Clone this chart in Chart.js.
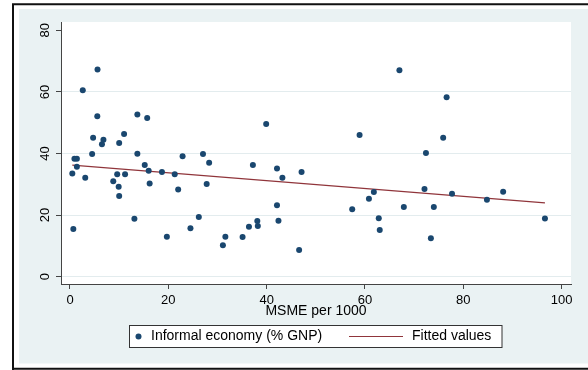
<!DOCTYPE html>
<html><head><meta charset="utf-8">
<script src="https://cdn.jsdelivr.net/npm/chart.js@4"></script>
<style>html,body{margin:0;padding:0;background:#fff}#wrap{position:relative;width:588px;height:370px}</style>
</head><body><div id="wrap"><canvas id="c" width="588" height="370"></canvas></div>
<script>
// ---- data ----
const msme = [0.47,0.68,0.9,1.4,1.4,2.6,3.1,4.5,4.7,5.55,5.6,6.5,6.8,8.8,9.6,9.9,10.0,10.0,11.0,11.2,13.1,13.7,13.7,15.2,15.7,16.0,16.2,18.7,19.7,21.3,22.0,22.9,24.5,26.2,27.05,27.8,28.3,31.1,31.6,35.1,36.4,37.2,38.1,38.2,39.9,42.1,42.1,42.4,43.2,46.6,47.1,57.4,58.9,60.8,61.8,62.8,63.0,67.0,67.9,72.1,72.4,73.4,74.0,75.9,76.6,77.7,84.8,88.1,96.6];
const informal = [33.5,15.5,38.3,38.3,35.7,60.5,32.1,39.8,45.1,52.1,67.3,43.0,44.5,31.0,33.3,29.2,26.2,43.4,46.3,33.3,18.8,52.7,39.9,36.3,51.5,34.4,30.3,34.0,13.0,33.3,28.3,39.1,15.7,19.4,39.8,30.1,37.0,10.2,13.0,12.9,16.2,36.3,18.1,16.5,49.6,35.1,23.2,18.2,32.1,8.7,34.0,21.9,46.0,25.3,27.5,19.0,15.2,67.0,22.6,28.5,40.2,12.5,22.6,45.1,58.3,26.9,25.0,27.6,18.9];
const fitX = [0.47, 96.6];
const fitY = [36.2, 24.0];
const xTicks = [0, 20, 40, 60, 80, 100];
const yTicks = [0, 20, 40, 60, 80];
const seriesLabels = ['Informal economy (% GNP)', 'Fitted values'];
const xTitle = 'MSME per 1000';

const NAVY = '#1a476f', MAROON = '#90353b', BG = '#eaf2f3', GRID = '#e3ecee', AXIS = '#444';
const FONT = '"Liberation Sans", Arial, sans-serif';

const bgPlugin = {
  id: 'bg',
  beforeDraw(chart) {
    const {ctx, chartArea: a} = chart;
    ctx.save();
    ctx.fillStyle = '#fff'; ctx.fillRect(0, 0, 588, 370);
    ctx.fillStyle = BG; ctx.fillRect(19, 9, 569, 354.5);
    ctx.fillStyle = '#fff'; ctx.fillRect(a.left, a.top, a.right - a.left, a.bottom - a.top);
    ctx.strokeStyle = '#111'; ctx.lineWidth = 2;
    ctx.beginPath();
    ctx.moveTo(12, 4.3); ctx.lineTo(588, 4.3);
    ctx.moveTo(13, 3.3); ctx.lineTo(13, 370);
    ctx.moveTo(12, 368.8); ctx.lineTo(588, 368.8);
    ctx.stroke();
    ctx.restore();
  },
  afterDraw(chart) {
    const ctx = chart.ctx;
    const ds = chart.data.datasets;
    ctx.save();
    ctx.fillStyle = '#fff';
    ctx.fillRect(129.5, 325.5, 372.5, 22);
    ctx.strokeStyle = '#333'; ctx.lineWidth = 1;
    ctx.strokeRect(129.5, 325.5, 372.5, 22);
    const cy = 336.5;
    ctx.fillStyle = ds[0].backgroundColor;
    ctx.beginPath(); ctx.arc(138.5, cy, 3, 0, Math.PI * 2); ctx.fill();
    ctx.strokeStyle = ds[1].borderColor; ctx.lineWidth = 1.2;
    ctx.beginPath(); ctx.moveTo(349, cy); ctx.lineTo(403, cy); ctx.stroke();
    ctx.fillStyle = '#000';
    ctx.font = '14px ' + FONT;
    ctx.textBaseline = 'middle';
    ctx.fillText(ds[0].label, 151, cy);
    ctx.fillText(ds[1].label, 412, cy);
    ctx.restore();
  }
};

new Chart(document.getElementById('c'), {
  type: 'scatter',
  data: {
    datasets: [
      {
        label: seriesLabels[0],
        data: msme.map((x, i) => ({x, y: informal[i]})),
        backgroundColor: NAVY, borderWidth: 0, pointRadius: 3, pointHoverRadius: 3
      },
      {
        type: 'line',
        label: seriesLabels[1],
        data: fitX.map((x, i) => ({x, y: fitY[i]})),
        borderColor: MAROON, borderWidth: 1.2, pointRadius: 0, fill: false, showLine: true
      }
    ]
  },
  options: {
    responsive: false, animation: false, devicePixelRatio: 1,
    layout: {padding: {left: 0, top: 22, right: 17, bottom: 0}},
    plugins: {legend: {display: false}, tooltip: {enabled: false}},
    scales: {
      x: {
        type: 'linear', min: -1.83, max: 101.9,
        afterBuildTicks: s => { s.ticks = xTicks.map(v => ({value: v})); },
        afterFit: s => { s.height = 86; },
        grid: {drawOnChartArea: false, tickLength: 5, tickColor: AXIS, tickWidth: 1},
        border: {color: AXIS, width: 1},
        ticks: {color: '#000', font: {family: FONT, size: 13}, padding: 4, maxRotation: 0, minRotation: 0, autoSkip: false},
        title: {display: true, text: xTitle, color: '#000', font: {family: FONT, size: 14}, padding: {top: 0, bottom: 50}}
      },
      y: {
        type: 'linear', min: -2.37, max: 82.7,
        afterBuildTicks: s => { s.ticks = yTicks.map(v => ({value: v})); },
        afterFit: s => { s.width = 61; },
        grid: {color: c => (c.tick && c.tick.value === 80) ? 'rgba(0,0,0,0)' : GRID, lineWidth: 1, tickLength: 5, tickColor: AXIS, tickWidth: 1},
        border: {color: AXIS, width: 1},
        ticks: {color: '#000', font: {family: FONT, size: 13}, padding: 3, minRotation: 90, maxRotation: 90, crossAlign: 'center', autoSkip: false}
      }
    }
  },
  plugins: [bgPlugin]
});
</script>
</body></html>
